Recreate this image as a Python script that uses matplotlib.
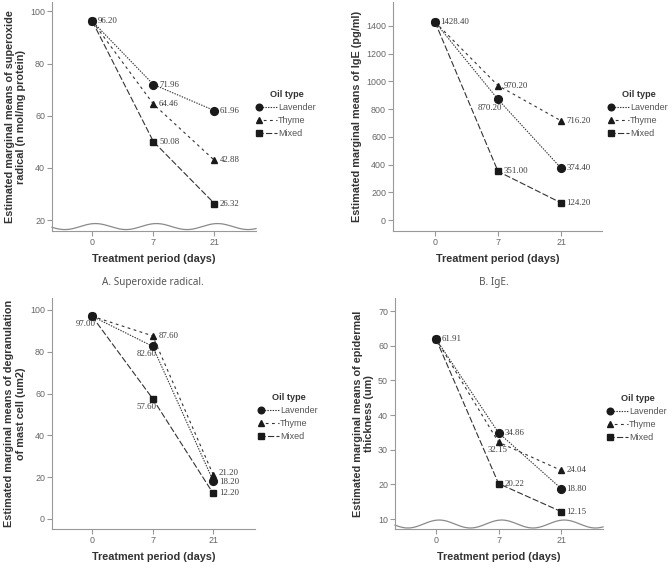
import matplotlib
matplotlib.use('Agg')
import matplotlib.pyplot as plt
import numpy as np
from matplotlib.lines import Line2D
from matplotlib.legend_handler import HandlerLine2DCompound

plt.rcParams['font.family'] = ['Liberation Sans', 'DejaVu Sans']
plt.rcParams['lines.scale_dashes'] = False

# ---------------- data ----------------
days = ['0', '7', '21']
oil_types = ['Lavender', 'Thyme', 'Mixed']

sox_lavender = [96.20, 71.96, 61.96]
sox_thyme = [96.20, 64.46, 42.88]
sox_mixed = [96.20, 50.08, 26.32]

ige_lavender = [1428.40, 870.20, 374.40]
ige_thyme = [1428.40, 970.20, 716.20]
ige_mixed = [1428.40, 351.00, 124.20]

mast_lavender = [97.00, 82.60, 18.20]
mast_thyme = [97.00, 87.60, 21.20]
mast_mixed = [97.00, 57.60, 12.20]

epi_lavender = [61.91, 34.86, 18.80]
epi_thyme = [61.91, 32.15, 24.04]
epi_mixed = [61.91, 20.22, 12.15]

sox_ticks = [20, 40, 60, 80, 100]
ige_ticks = [0, 200, 400, 600, 800, 1000, 1200, 1400]
mast_ticks = [0, 20, 40, 60, 80, 100]
epi_ticks = [10, 20, 30, 40, 50, 60, 70]

# ---------------- styles ----------------
W, H = 672, 574
fig = plt.figure(figsize=(W / 100, H / 100), dpi=100)

LINE_C = '#333333'
styles = {
    'Lavender': dict(marker='o', ms=5.6, dashes=(1.0, 0.9)),
    'Thyme': dict(marker='^', ms=5.0, dashes=(2.0, 2.5)),
    'Mixed': dict(marker='s', ms=4.5, dashes=(4.5, 1.6)),
}
AX_C = '#999999'
TICK_LC = '#666666'
LBL_C = '#3a3a3a'


class MarkerLeftHandler(HandlerLine2DCompound):
    def get_xdata(self, legend, xdescent, ydescent, width, height, fontsize):
        xdata = np.array([-xdescent, -xdescent + width])
        xdata_marker = np.array([-xdescent + 1.5])
        return xdata, xdata_marker


def px_axes(left, top, right, bottom):
    return fig.add_axes([left / W, 1 - bottom / H, (right - left) / W, (bottom - top) / H])


OFFSETS = {
    'r': ((4, 0), 'left', 'center'),
    'ru': ((4, 1.2), 'left', 'center'),
    'rd': ((4, -0.8), 'left', 'center'),
    'lb': ((3, -3), 'right', 'top'),
    'b': ((-1, -3), 'center', 'top'),
}


def panel(box, series, xlim, ylim, yticks, ylabel, ylab_x, placements, leg_xy,
          wave=None, caption=None, cap_xy=None):
    ax = px_axes(*box)
    x = np.arange(len(days))
    for name, vals in zip(oil_types, series):
        st = styles[name]
        ax.plot(x, vals, color=LINE_C, lw=0.8, dashes=st['dashes'],
                marker=st['marker'], ms=st['ms'], mfc='#1a1a1a', mec='#1a1a1a',
                zorder=3)
    for (si, pi, mode) in placements:
        v = series[si][pi]
        off, ha, va = OFFSETS[mode]
        ax.annotate(f'{v:.2f}', (x[pi], v), xytext=off, textcoords='offset points',
                    ha=ha, va=va, fontsize=6.3, color=LBL_C,
                    family=['Liberation Serif', 'DejaVu Serif'], zorder=4)
    ax.set_xlim(*xlim)
    ax.set_ylim(*ylim)
    ax.set_xticks(x)
    ax.set_xticklabels(days)
    ax.set_yticks(yticks)
    for s in ['top', 'right']:
        ax.spines[s].set_visible(False)
    for s in ['left', 'bottom']:
        ax.spines[s].set_color(AX_C)
        ax.spines[s].set_linewidth(0.8)
    ax.tick_params(direction='out', length=3.5, width=0.8, color=AX_C,
                   labelcolor=TICK_LC, labelsize=6.4, pad=1.5)
    if wave is not None:
        c, a = wave
        xs = np.linspace(xlim[0], xlim[1], 300)
        ax.plot(xs, c + a * np.cos(2 * np.pi * (xs - 0.05)), color='#8a8a8a',
                lw=0.9, zorder=2, clip_on=False)
    ax.set_xlabel('Treatment period (days)', fontsize=7.8, fontweight='bold',
                  color='#333333')
    ax.xaxis.set_label_coords(0.5, -0.1)
    ax.set_ylabel(ylabel, fontsize=7.8, fontweight='bold', color='#333333',
                  linespacing=1.2)
    ax.yaxis.set_label_coords(ylab_x, 0.5)

    handles = [Line2D([], [], color=LINE_C, lw=0.8, dashes=styles[n]['dashes'],
                      marker=styles[n]['marker'], ms=styles[n]['ms'] * 0.85,
                      mfc='#1a1a1a', mec='#1a1a1a') for n in oil_types]
    leg = ax.legend(handles, oil_types, title='Oil type', loc='upper left',
                    bbox_to_anchor=(leg_xy[0] / W, 1 - leg_xy[1] / H),
                    bbox_transform=fig.transFigure, frameon=False,
                    borderpad=0, borderaxespad=0, handlelength=2.2,
                    handletextpad=0.15, labelspacing=0.45,
                    fontsize=6.5, title_fontsize=6.6,
                    handler_map={Line2D: MarkerLeftHandler()})
    leg.get_title().set_fontweight('bold')
    leg.get_title().set_color('#333333')
    for t in leg.get_texts():
        t.set_color('#555555')
    if caption:
        fig.text(cap_xy[0] / W, 1 - cap_xy[1] / H, caption, ha='center', va='center',
                 fontsize=7.2, color='#555555', family=['Noto Sans', 'DejaVu Sans'])
    return ax


# A
panel((52, 2, 256, 231), [sox_lavender, sox_thyme, sox_mixed],
      (-0.66, 2.68), (15.8, 103.6), sox_ticks,
      'Estimated marginal means of superoxide\nradical (n mol/mg protein)', -0.125,
      [(0, 0, 'r'), (0, 1, 'r'), (0, 2, 'r'), (1, 1, 'r'), (1, 2, 'r'),
       (2, 1, 'r'), (2, 2, 'r')],
      (257, 90), wave=(17.5, 1.15), caption='A. Superoxide radical.', cap_xy=(153, 282))

# B
panel((393, 2, 602, 231), [ige_lavender, ige_thyme, ige_mixed],
      (-0.667, 2.65), (-79, 1573), ige_ticks,
      'Estimated marginal means of IgE (pg/ml)', -0.148,
      [(0, 0, 'r'), (0, 1, 'lb'), (0, 2, 'r'), (1, 1, 'r'), (1, 2, 'r'),
       (2, 1, 'r'), (2, 2, 'r')],
      (609, 90), caption='B. IgE.', cap_xy=(494, 282))

# C
panel((52, 298, 255, 529), [mast_lavender, mast_thyme, mast_mixed],
      (-0.66, 2.69), (-4.8, 105.7), mast_ticks,
      'Estimated marginal means of degranulation\nof mast cell (um2)', -0.128,
      [(0, 0, 'lb'), (0, 1, 'lb'), (0, 2, 'rd'), (1, 1, 'r'), (1, 2, 'ru'),
       (2, 1, 'lb'), (2, 2, 'r')],
      (259, 393))

# D
panel((395, 298, 603, 529), [epi_lavender, epi_thyme, epi_mixed],
      (-0.656, 2.67), (7.12, 73.75), epi_ticks,
      'Estimated marginal means of epidermal\nthickness (um)', -0.1,
      [(0, 0, 'r'), (0, 1, 'r'), (0, 2, 'r'), (1, 1, 'b'), (1, 2, 'r'),
       (2, 1, 'r'), (2, 2, 'r')],
      (608, 394), wave=(8.56, 1.15))

fig.savefig('out.png', dpi=100)
